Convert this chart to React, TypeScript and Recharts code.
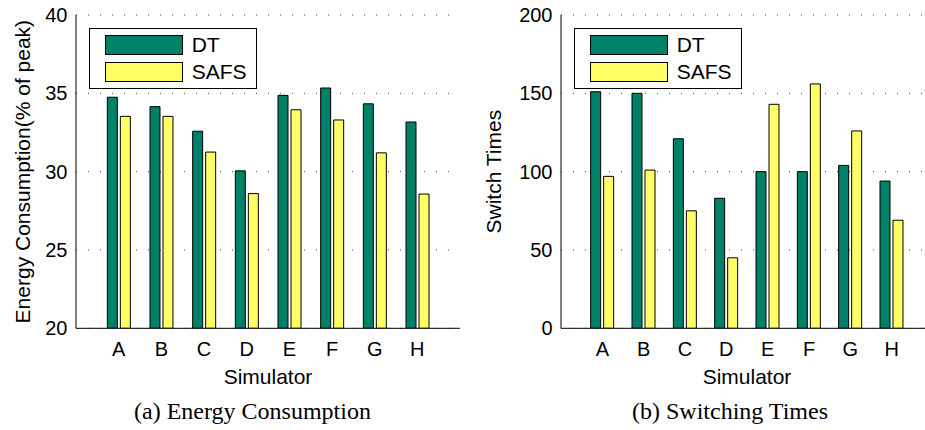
import React from 'react';
import { BarChart, Bar, XAxis, YAxis, CartesianGrid } from 'recharts';

// simulators on the x axis
const simulators = ['A', 'B', 'C', 'D', 'E', 'F', 'G', 'H'];

// (a) energy consumption, % of peak
const energyDT = [34.75, 34.15, 32.58, 30.05, 34.87, 35.34, 34.33, 33.17];
const energySAFS = [33.53, 33.53, 31.25, 28.6, 33.95, 33.3, 31.2, 28.57];
const energyTicks = [20, 25, 30, 35, 40];

// (b) switching times
const switchDT = [151, 150, 121, 83, 100, 100, 104, 94];
const switchSAFS = [97, 101, 75, 45, 143, 156, 126, 69];
const switchTicks = [0, 50, 100, 150, 200];

const seriesNames = ['DT', 'SAFS'];
const seriesColors = ['#008066', '#ffff66'];

const SANS = '"Liberation Sans", Arial, Helvetica, sans-serif';
const SERIF = '"Liberation Serif", "Times New Roman", serif';

const buildRows = (dt: number[], safs: number[]) =>
  simulators.map((name, i) => ({ name, dt: dt[i], safs: safs[i] }));

interface PanelProps {
  rows: Array<{ name: string; dt: number; safs: number }>;
  ticks: number[];
  yLabel: string;
  caption: string;
  left: number;
  width: number;
  yAxisWidth: number;
  pad: number;
  labelX: number;
  captionX: number;
}

const TopTick = (props: any) => (
  <line x1={props.x} x2={props.x} y1={props.y} y2={props.y + 4} stroke="#000" />
);

const RightTick = (props: any) => (
  <line x1={props.x} x2={props.x - 4} y1={props.y} y2={props.y} stroke="#000" />
);

const Panel = ({ rows, ticks, yLabel, caption, left, width, yAxisWidth, pad, labelX, captionX }: PanelProps) => {
  const margin = { top: 15, right: 10, bottom: 0, left: 20 };
  const plotLeft = margin.left + yAxisWidth;
  const domain = [ticks[0], ticks[ticks.length - 1]];

  return (
    <div style={{ position: 'absolute', left, top: 0, width, height: 430 }}>
      <BarChart
        width={width}
        height={400}
        data={rows}
        margin={margin}
        barGap={3}
        barSize={10}
      >
        <CartesianGrid vertical={false} stroke="#444" strokeDasharray="1 11" />
        <XAxis
          dataKey="name"
          height={71.7}
          padding={{ left: pad, right: pad }}
          axisLine={{ stroke: '#000' }}
          tickLine={false}
          tickSize={0}
          tickMargin={13.4}
          tick={{ fill: '#000', fontSize: 20, fontFamily: SANS }}
          label={{
            content: ({ viewBox }: any) => (
              <text
                x={viewBox.x + viewBox.width / 2}
                y={384}
                textAnchor="middle"
                fontSize={21}
                fontFamily={SANS}
                fill="#000"
              >
                Simulator
              </text>
            )
          }}
        />
        <XAxis
          xAxisId="top"
          dataKey="name"
          orientation="top"
          height={0}
          padding={{ left: pad, right: pad }}
          axisLine={{ stroke: '#000' }}
          tickLine={false}
          tickSize={0}
          tickMargin={0}
          tick={TopTick}
        />
        <YAxis
          width={yAxisWidth}
          domain={domain}
          ticks={ticks}
          allowDataOverflow
          axisLine={{ stroke: '#000' }}
          tickLine={false}
          tickSize={0}
          tickMargin={8.5}
          tick={{ fill: '#000', fontSize: 20, fontFamily: SANS }}
          label={{
            content: ({ viewBox }: any) => {
              const cy = viewBox.y + viewBox.height / 2;
              return (
                <text
                  x={labelX}
                  y={cy}
                  transform={`rotate(-90, ${labelX}, ${cy})`}
                  textAnchor="middle"
                  fontSize={21}
                  fontFamily={SANS}
                  fill="#000"
                >
                  {yLabel}
                </text>
              );
            }
          }}
        />
        <YAxis
          yAxisId="r"
          orientation="right"
          width={0}
          domain={domain}
          ticks={ticks}
          allowDataOverflow
          axisLine={{ stroke: '#000' }}
          tickLine={false}
          tickSize={0}
          tickMargin={0}
          tick={RightTick}
        />
        <Bar dataKey="dt" name={seriesNames[0]} fill={seriesColors[0]} stroke="#000" strokeWidth={1} isAnimationActive={false} />
        <Bar dataKey="safs" name={seriesNames[1]} fill={seriesColors[1]} stroke="#000" strokeWidth={1} isAnimationActive={false} />
      </BarChart>

      {/* legend box, upper left of the plot */}
      <div
        style={{
          position: 'absolute',
          left: plotLeft + 12.7,
          top: 27.7,
          width: 168.6,
          height: 61.6,
          border: '1px solid #000',
          boxSizing: 'border-box',
          background: '#fff'
        }}
      >
        {seriesNames.map((name, i) => (
          <div key={name}>
            <div
              style={{
                position: 'absolute',
                left: 15,
                top: 6.6 + i * 27,
                width: 78,
                height: 20,
                background: seriesColors[i],
                border: '1px solid #000',
                boxSizing: 'border-box'
              }}
            />
            <div
              style={{
                position: 'absolute',
                left: 102,
                top: 4 + i * 27,
                fontFamily: SANS,
                fontSize: 21,
                lineHeight: '24px',
                color: '#000'
              }}
            >
              {name}
            </div>
          </div>
        ))}
      </div>

      <div
        style={{
          position: 'absolute',
          left: captionX - 200,
          width: 400,
          top: 396.6,
          textAlign: 'center',
          fontFamily: SERIF,
          fontSize: 24,
          lineHeight: '28px',
          color: '#000',
          whiteSpace: 'nowrap'
        }}
      >
        {caption}
      </div>
    </div>
  );
};

export default function App() {
  return (
    <div
      style={{
        position: 'absolute',
        left: 0,
        top: 0,
        width: 925,
        height: 430,
        overflow: 'hidden',
        background: '#fff'
      }}
    >
      <Panel
        rows={buildRows(energyDT, energySAFS)}
        ticks={energyTicks}
        yLabel="Energy Consumption(% of peak)"
        caption="(a) Energy Consumption"
        left={0}
        width={470}
        yAxisWidth={56}
        pad={21.33}
        labelX={30}
        captionX={252.5}
      />
      <Panel
        rows={buildRows(switchDT, switchSAFS)}
        ticks={switchTicks}
        yLabel="Switch Times"
        caption="(b) Switching Times"
        left={470}
        width={473}
        yAxisWidth={71}
        pad={20.67}
        labelX={31}
        captionX={260}
      />
    </div>
  );
}
